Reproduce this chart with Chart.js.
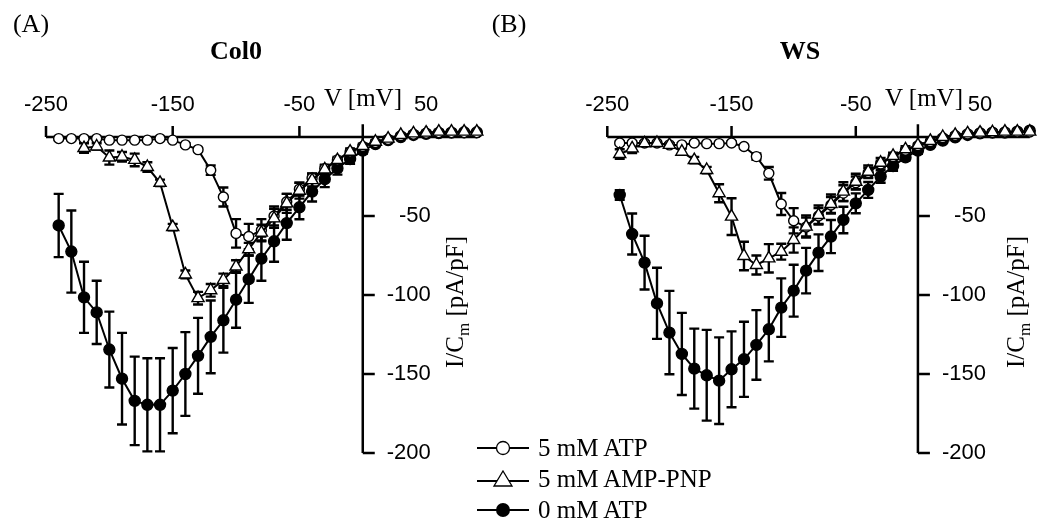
<!DOCTYPE html>
<html>
<head>
<meta charset="utf-8">
<script src="https://cdn.jsdelivr.net/npm/chart.js@4.4.1/dist/chart.umd.min.js"></script>
<style>
  body { margin: 0; background: #fff; width: 1040px; height: 522px; position: relative; overflow: hidden;
         font-family: "Liberation Serif", "Times New Roman", serif; color: #000; }
  .wrap { position: absolute; top: 0; height: 522px; }
  .txt { position: absolute; white-space: nowrap; transform: translate(-50%, -50%); line-height: 1; }
  .legend { position: absolute; left: 477px; top: 432px; font-size: 25px; }
  .legend div { height: 31px; display: flex; align-items: center; }
  .legend svg { margin-right: 9px; }
</style>
</head>
<body>
<div class="wrap" style="left:0;width:520px"><canvas id="chartA"></canvas></div>
<div class="wrap" style="left:500px;width:540px"><canvas id="chartB"></canvas></div>

<div class="txt" style="left:31px;top:24px;font-size:26px">(A)</div>
<div class="txt" style="left:509px;top:24px;font-size:26px">(B)</div>
<div class="txt" style="left:236px;top:51px;font-size:26px;font-weight:bold">Col0</div>
<div class="txt" style="left:800px;top:51px;font-size:26px;font-weight:bold">WS</div>
<div class="txt" style="left:363px;top:97px;font-size:25px">V [mV]</div>
<div class="txt" style="left:924px;top:97px;font-size:25px">V [mV]</div>
<div class="txt" style="left:457px;top:302px;font-size:25px;transform:translate(-50%,-50%) rotate(-90deg)">I/C<sub style="font-size:17px">m</sub> [pA/pF]</div>
<div class="txt" style="left:1018px;top:302px;font-size:25px;transform:translate(-50%,-50%) rotate(-90deg)">I/C<sub style="font-size:17px">m</sub> [pA/pF]</div>

<div class="legend">
  <div><svg width="52" height="16"><line x1="0" y1="8" x2="52" y2="8" stroke="#000" stroke-width="1.8"/><circle cx="26" cy="8" r="6.5" fill="#fff" stroke="#000" stroke-width="1.3"/></svg>5 mM ATP</div>
  <div><svg width="52" height="18"><line x1="0" y1="11" x2="52" y2="11" stroke="#000" stroke-width="1.8"/><polygon points="26,1 35,16 17,16" fill="#fff" stroke="#000" stroke-width="1.3"/></svg>5 mM AMP-PNP</div>
  <div><svg width="52" height="16"><line x1="0" y1="8" x2="52" y2="8" stroke="#000" stroke-width="1.8"/><circle cx="26" cy="8" r="7" fill="#000"/></svg>0 mM ATP</div>
</div>

<script>
// membrane potential, mV
const voltages = [-240, -230, -220, -210, -200, -190, -180, -170, -160, -150, -140, -130, -120, -110, -100, -90,
  -80, -70, -60, -50, -40, -30, -20, -10, 0, 10, 20, 30, 40, 50, 60, 70, 80, 90]

const xTicks = [-250, -150, -50, 50]
const yTicks = [-50, -100, -150, -200]

// (A) Col0
const colAtp = [-1, -1, -1, -1, -2, -2, -2, -2, -1, -2, -5, -8, -21, -38, -61, -63,
  -59, -50, -41, -33, -26, -20, -14.5, -9.5, -6, -3.5, -1.5, 0.8, 1.8, 2.4, 2.8, 2.8, 2.8, 2.8]
const colAtpErr = [1, 1, 1, 1, 1, 1, 1, 1, 1, 1, 1, 1, 3, 6, 9, 8,
  7, 6, 5, 4, 3, 2, 1, 1, 1, 1, 1, 1, 1, 1, 1, 1, 1, 1]
const colPnp = [null, null, -7, -6, -13, -12.5, -14.5, -19, -29, -57, -87, -102, -97, -90.5, -82, -71,
  -60.5, -51.5, -42, -34, -27.3, -20.5, -14.6, -9.3, -5.7, -3, -1, 1.3, 2.3, 2.8, 3.4, 3.4, 3.4, 3.4]
const colPnpErr = [0, 0, 3, 2, 4.5, 3, 4, 3, 2, 2, 2.5, 4, 4, 4, 4, 4,
  5, 6, 6, 5, 4, 3, 2, 2, 1.5, 1, 1, 1, 1, 1, 1, 1, 1, 1]
const colZero = [-56, -72.5, -101.5, -111, -134.5, -153, -167, -169.5, -169.5, -160.5, -150, -138.5, -126.5, -116, -103, -90,
  -77, -66, -54.5, -44.5, -34.5, -26.7, -19.8, -14, -8.6, -4.5, -2, 0, 1.3, 2, 2.5, 2.8, 3, 3]
const colZeroErr = [20, 26, 22.5, 20, 24, 29, 28, 29.5, 29.5, 27, 26.5, 24, 23, 20.5, 17.7, 15,
  14, 13, 10.5, 7.6, 6.3, 5, 4, 3, 2, 1.5, 1, 1, 1, 1, 1, 1, 1, 1]

// (B) WS
const wsAtp = [-3.8, -3.8, -3.8, -3.8, -5, -5, -3.8, -4.2, -4.2, -3.8, -6, -12.4, -23, -42.4, -53, -57,
  -50, -43, -35.5, -29, -22.5, -17, -12.5, -8.3, -5.5, -3, -0.5, 1, 2, 2.5, 2.8, 3.2, 3.2, 3.2]
const wsAtpErr = [1, 1, 1, 1, 1, 1, 1, 1, 1, 1, 1, 2, 4, 7, 8, 6,
  5, 5, 5, 4, 3, 2, 1, 1, 1, 1, 1, 1, 1, 1, 1, 1, 1, 1]
const wsPnp = [-10.8, -7.2, -4, -3.8, -5, -9.3, -14.6, -20.9, -35.6, -50.4, -75.3, -81, -76.8, -72.6, -65.2, -56.7,
  -49.4, -42.4, -34.6, -28.3, -22, -16.3, -12, -7.8, -5.1, -2.5, 0, 1.3, 2.3, 2.8, 3, 3.4, 3.4, 3.4]
const wsPnpErr = [3, 3, 1, 1, 1, 2, 2, 2, 5.7, 11.6, 9, 6, 9, 5, 8, 7,
  6, 6, 6, 5, 4, 3, 2, 2, 1, 1, 1, 1, 1, 1, 1, 1, 1, 1]
const wsZero = [-36.7, -61.4, -79.5, -105.3, -123.8, -137.3, -146.6, -150.8, -154.2, -147, -140.7, -131.6, -121.7, -108, -97.3, -84.6,
  -73.2, -63, -52.5, -42, -33.5, -25, -18.4, -12.9, -8.6, -5, -2.3, -0.2, 1.3, 2.3, 2.8, 2.8, 3.4, 4]
const wsZeroErr = [3, 13, 17, 22.5, 26.4, 26, 25.3, 28.7, 27.4, 24, 23.8, 22, 20.3, 18.5, 16.4, 14.4,
  11.6, 10.5, 8.4, 6.3, 5, 4, 3, 2, 2, 1, 1, 1, 1, 1, 1, 1, 1, 1]

function points(values) {
  return voltages.map((v, i) => ({ x: v, y: values[i] }))
}

// axes crossing at the origin + error bars, drawn through the chart's scales
const ivAxesPlugin = {
  id: 'ivAxes',
  beforeDatasetsDraw(chart) {
    const ctx = chart.ctx
    const xs = chart.scales.x
    const ys = chart.scales.y
    const x0 = xs.getPixelForValue(0)
    const y0 = ys.getPixelForValue(0)
    ctx.save()
    ctx.strokeStyle = '#000'
    ctx.lineCap = 'butt'

    // error bars, bottom dataset first
    ctx.lineWidth = 2.4
    for (let d = chart.data.datasets.length - 1; d >= 0; d--) {
      const ds = chart.data.datasets[d]
      ds.data.forEach((p, i) => {
        const e = ds.errors[i]
        if (p.y == null || !e) return
        const px = xs.getPixelForValue(p.x)
        const top = ys.getPixelForValue(p.y + e)
        const bot = ys.getPixelForValue(p.y - e)
        ctx.beginPath()
        ctx.moveTo(px, top); ctx.lineTo(px, bot)
        ctx.moveTo(px - 5, top); ctx.lineTo(px + 5, top)
        ctx.moveTo(px - 5, bot); ctx.lineTo(px + 5, bot)
        ctx.stroke()
      })
    }

    // x axis along I = 0
    ctx.lineWidth = 2.5
    ctx.beginPath()
    ctx.moveTo(xs.getPixelForValue(-250), y0)
    ctx.lineTo(xs.getPixelForValue(90), y0)
    xTicks.forEach(t => {
      const px = xs.getPixelForValue(t)
      ctx.moveTo(px, y0); ctx.lineTo(px, y0 - 11)
    })
    // y axis along V = 0
    ctx.moveTo(x0, ys.getPixelForValue(8))
    ctx.lineTo(x0, ys.getPixelForValue(-200))
    yTicks.forEach(t => {
      const py = ys.getPixelForValue(t)
      ctx.moveTo(x0, py); ctx.lineTo(x0 + 12, py)
    })
    ctx.stroke()

    ctx.fillStyle = '#000'
    ctx.font = '22px "Liberation Sans", Arial, sans-serif'
    ctx.textAlign = 'center'
    ctx.textBaseline = 'middle'
    xTicks.forEach(t => ctx.fillText(String(t), xs.getPixelForValue(t), y0 - 32))
    ctx.textAlign = 'right'
    yTicks.forEach(t => ctx.fillText(String(t), x0 + 68, ys.getPixelForValue(t)))
    ctx.restore()
  },
}

function makeChart(id, left, right, atp, atpErr, pnp, pnpErr, zero, zeroErr) {
  const canvas = document.getElementById(id)
  const base = { showLine: true, borderColor: '#000', borderWidth: 2, clip: false, pointBorderWidth: 1.4, pointBorderColor: '#000' }
  return new Chart(canvas, {
    type: 'scatter',
    data: {
      datasets: [
        Object.assign({}, base, { label: '5 mM AMP-PNP', data: points(pnp), errors: pnpErr,
          pointStyle: 'triangle', pointRadius: 7, pointBackgroundColor: '#fff' }),
        Object.assign({}, base, { label: '5 mM ATP', data: points(atp), errors: atpErr,
          pointStyle: 'circle', pointRadius: 5, pointBackgroundColor: '#fff' }),
        Object.assign({}, base, { label: '0 mM ATP', data: points(zero), errors: zeroErr,
          pointStyle: 'circle', pointRadius: 5.5, pointBackgroundColor: '#000' }),
      ],
    },
    options: {
      responsive: true,
      maintainAspectRatio: false,
      animation: false,
      layout: { padding: { left: left, right: right, top: 121.2, bottom: 53.2 } },
      scales: {
        x: { type: 'linear', min: -250, max: 91.5, display: false },
        y: { type: 'linear', min: -210, max: 10, display: false },
      },
      plugins: { legend: { display: false }, tooltip: { enabled: false } },
    },
    plugins: [ivAxesPlugin],
  })
}

makeChart('chartA', 46, 41.3, colAtp, colAtpErr, colPnp, colPnpErr, colZero, colZeroErr)
makeChart('chartB', 107.3, 0, wsAtp, wsAtpErr, wsPnp, wsPnpErr, wsZero, wsZeroErr)
</script>
</body>
</html>
